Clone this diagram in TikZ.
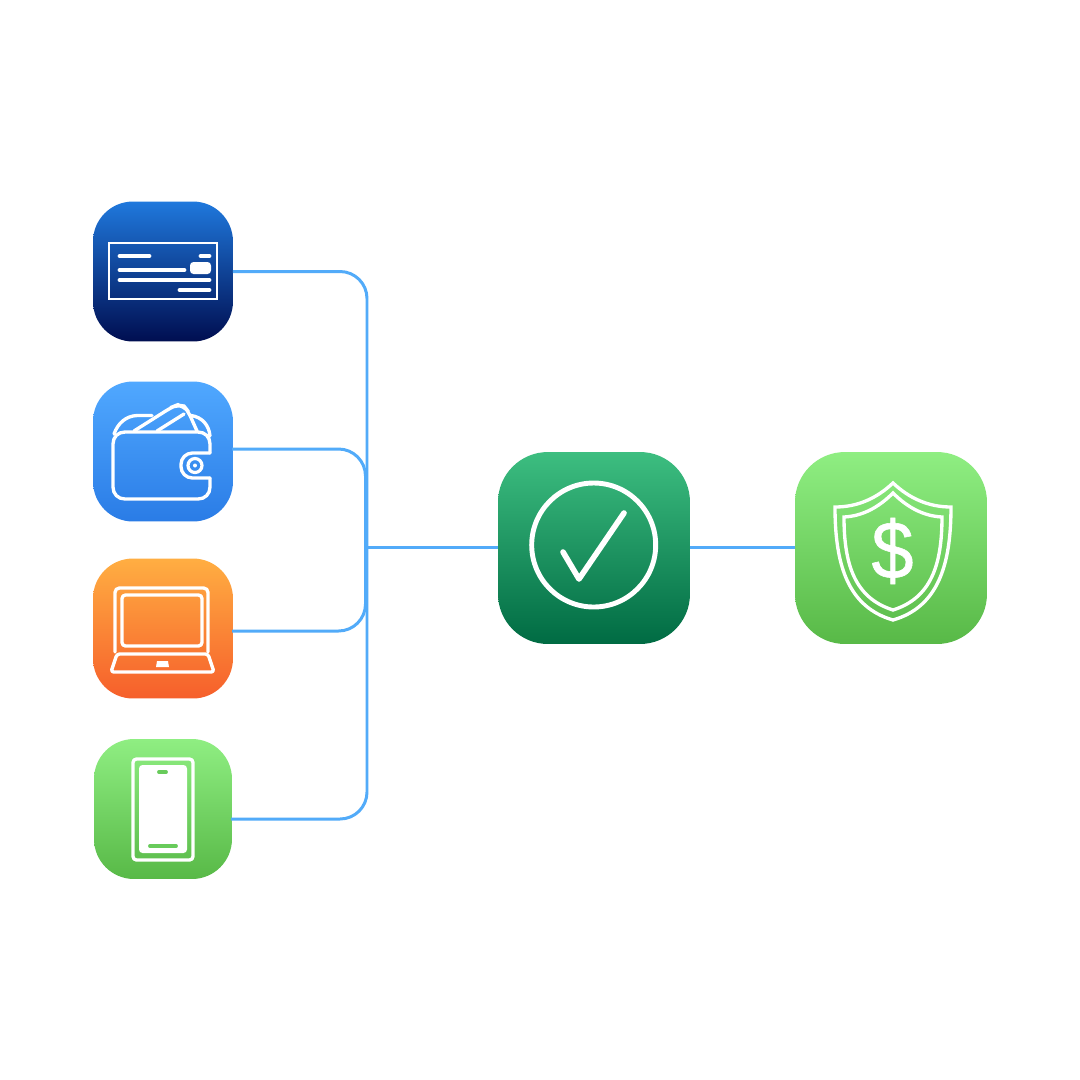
\documentclass[tikz,border=0pt]{standalone}
\usepackage{fontspec}
\setmainfont{Liberation Sans}
\newfontfamily\dollarfont[FakeBold=0.7]{Liberation Sans}
\definecolor{conn}{HTML}{52ABF9}
\definecolor{chkT}{HTML}{1F78DC}\definecolor{chkB}{HTML}{000E50}
\definecolor{walT}{HTML}{50A8FF}\definecolor{walB}{HTML}{2A7CE6}
\definecolor{lapT}{HTML}{FFAE42}\definecolor{lapB}{HTML}{F65F2B}
\definecolor{grnT}{HTML}{8FEE82}\definecolor{grnB}{HTML}{58B947}
\definecolor{verT}{HTML}{3DBE80}\definecolor{verB}{HTML}{006B43}
\definecolor{phoneink}{HTML}{68CB5B}
\tikzset{
  x=0.02cm,y=-0.02cm,
  tile/.style={inner sep=0pt,outer sep=0pt,minimum width=2.8cm,minimum height=2.8cm,rounded corners=0.8cm},
  bigtile/.style={tile,minimum width=3.84cm,minimum height=3.84cm,rounded corners=1cm},
  wire/.style={draw=conn,line width=1.7pt},
  elbow/.style={wire,rounded corners=0.54cm},
  ink/.style={draw=white,line width=1.9pt,line join=round,line cap=round},
  bar/.style={draw=white,line width=2.7pt,line cap=round},
}
\begin{document}
\begin{tikzpicture}
\useasboundingbox[fill=white] (0,0) rectangle (1080,1080);
% tiles
\node[tile,top color=chkT,bottom color=chkB] (cheque) at (163,271.5) {};
\node[tile,top color=walT,bottom color=walB] (wallet) at (163,451.5) {};
\node[tile,top color=lapT,bottom color=lapB] (laptop) at (163,628.5) {};
\node[tile,minimum width=2.76cm,top color=grnT,bottom color=grnB] (phone) at (163,809) {};
\node[bigtile,top color=verT,bottom color=verB] (verify) at (594,548) {};
\node[bigtile,top color=grnT,bottom color=grnB] (shield) at (891,548) {};
% hub points and connector ends
\coordinate (hub) at (367,547);
\coordinate (hubb) at (365.5,547);
\coordinate (endw) at (232,449);
\coordinate (endl) at (232,631);
\coordinate (endp) at (231,819);
% connectors
\draw[elbow] (cheque.east) -| (hub);
\draw[elbow] (endp) -| (hub);
\draw[elbow] (endw) -| (hubb);
\draw[elbow] (endl) -| (hubb);
\draw[wire] (hub) -- (hub -| verify.west);
\draw[wire] (verify.east |- hub) -- (hub -| shield.west);
% cheque icon
\draw[draw=white,line width=1.5pt,line join=miter] (109,243) rectangle (217,299);
\draw[bar] (120,256) -- (149,256);
\draw[bar] (201,256) -- (209,256);
\draw[bar] (120,270) -- (184,270);
\draw[bar] (120,280) -- (209,280);
\draw[bar] (180,290) -- (209,290);
\fill[white,rounded corners=2pt] (190,262) rectangle (211,274);
% wallet icon
\draw[ink] (210,453) -- (210,444) .. controls (210,437) and (205,432) .. (198,432)
  -- (125,432) .. controls (118,432) and (113,437) .. (113,444)
  -- (113,487) .. controls (113,494) and (118,499) .. (125,499)
  -- (198,499) .. controls (205,499) and (210,494) .. (210,487) -- (210,478);
\draw[ink,rounded corners=6.5pt] (210,453) -- (181,453) -- (181,478) -- (210,478);
\draw[draw=white,line width=1.8pt] (195,465.5) circle [radius=7];
\fill[white] (195,465.5) circle [radius=2];
\draw[ink] (114,434) .. controls (118,423) and (126,416) .. (137,415.5) -- (152,415.5);
\draw[ink] (191,415.5) .. controls (202,417) and (209,425) .. (210,436);
\draw[ink,rounded corners=4pt] (134,431) -- (172,407) -- (177,405) -- (184,406) -- (188,411) -- (197,431);
\draw[ink] (157,431) -- (184,414);
% laptop icon
\draw[ink,rounded corners=2.5pt] (115,652) -- (115,588) -- (208,588) -- (208,652);
\draw[ink,rounded corners=2pt] (122,595) rectangle (202,646);
\draw[ink,rounded corners=1.5pt] (117,654) -- (208,654) -- (214,672) -- (111,672) -- cycle;
\fill[white] (157,661) -- (168,661) -- (169,667) -- (156,667) -- cycle;
% phone icon
\draw[ink,rounded corners=2pt] (133,759) rectangle (193,860);
\fill[white,rounded corners=2pt] (139,765) rectangle (187,853);
\draw[draw=phoneink,line width=2.2pt,line cap=round] (159,772) -- (166,772);
\draw[draw=phoneink,line width=2.2pt,line cap=round] (150,846) -- (176,846);
% check-mark icon
\draw[draw=white,line width=2.8pt] (593.7,545) circle [radius=62];
\draw[draw=white,line width=3.2pt,line cap=round,line join=round] (563,552) -- (579,579) -- (624,513);
% shield icon
\draw[ink,line join=miter] (893,483) .. controls (877,498) and (858,507) .. (835,507)
  .. controls (835,565) and (848,607) .. (893,620)
  .. controls (938,607) and (951,565) .. (951,507)
  .. controls (928,507) and (909,498) .. (893,483) -- cycle;
\draw[ink,line join=miter] (893,493) .. controls (879,507) and (863,516) .. (844,517)
  .. controls (844,565) and (855,598) .. (893,610)
  .. controls (931,598) and (942,565) .. (942,517)
  .. controls (923,516) and (907,507) .. (893,493) -- cycle;
\node[text=white,font=\dollarfont\fontsize{43}{43}\selectfont,inner sep=0pt,yscale=1.08] (dollar) at (892.5,551) {\$};
\end{tikzpicture}
\end{document}
